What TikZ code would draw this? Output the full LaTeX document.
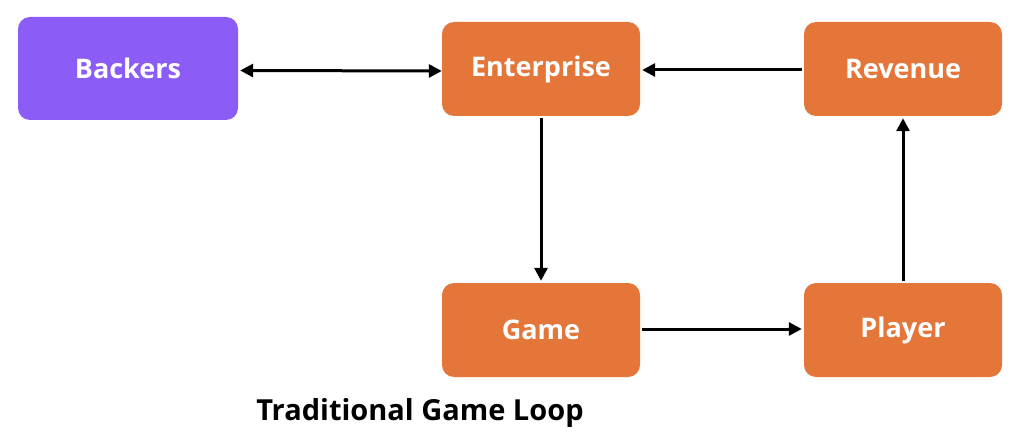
\documentclass[tikz,border=0pt]{standalone}
\usepackage{fontspec}
\setmainfont{Open Sans}
\usetikzlibrary{arrows.meta}
\definecolor{orng}{HTML}{E4763A}
\definecolor{purp}{HTML}{8B5CF6}
\begin{document}
\begin{tikzpicture}[x=1pt,y=1pt,
  box/.style={fill=orng,rounded corners=12pt,minimum width=198pt,minimum height=94pt,text=white,font=\fontsize{27}{32}\selectfont\bfseries,inner sep=0pt},
  conn/.style={line width=3pt,-{Triangle[length=13pt,width=13pt]}}]
\useasboundingbox (0,0) rectangle (1024,445);
\node[box,fill=purp,minimum width=220pt,minimum height=103pt] (b) at (128,376.5) {Backers};
\node[box] (e) at (541,376) {Enterprise};
\node[box] (r) at (903,376) {Revenue};
\node[box] (g) at (541,115) {Game};
\node[box] (p) at (903,115) {Player};
\draw[conn,{Triangle[length=13pt,width=13pt]}-{Triangle[length=13pt,width=13pt]}] ([xshift=2pt,yshift=-2pt]b.east) -- ([yshift=-2pt]e.west);
\draw[conn] ([xshift=-2pt,yshift=-1pt]r.west) -- ([xshift=2pt,yshift=-1pt]e.west -| e.east);
\draw[conn] ([yshift=-2pt]e.south) -- ([yshift=2pt]g.north);
\draw[conn] ([xshift=2pt,yshift=1pt]g.east) -- ([xshift=-2pt,yshift=1pt]p.west);
\draw[conn] ([yshift=2pt]p.north) -- ([yshift=-2pt]r.south);
\node[font=\fontsize{29}{34}\selectfont\bfseries] (t) at (420,32) {Traditional Game Loop};
\end{tikzpicture}
\end{document}
